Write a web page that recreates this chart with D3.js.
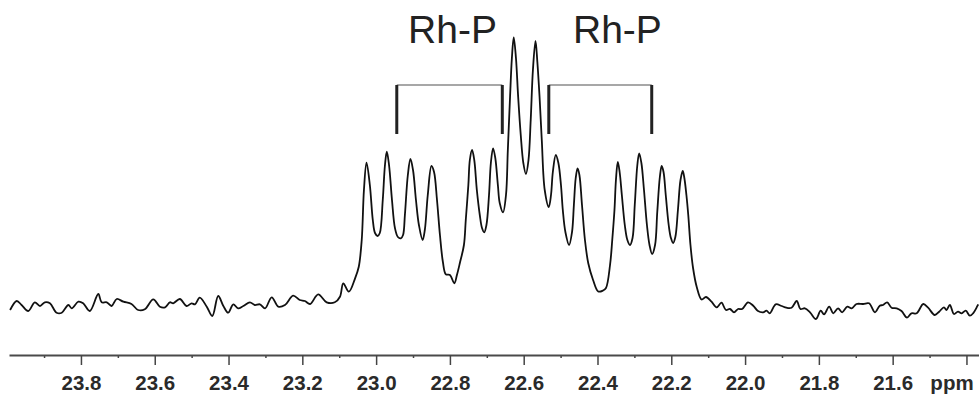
<!DOCTYPE html>
<html>
<head>
<meta charset="utf-8">
<script src="https://cdn.jsdelivr.net/npm/d3@7"></script>
<style>
  html, body { margin: 0; padding: 0; background: #fff; }
  svg { display: block; }
</style>
</head>
<body>
<div id="chart"></div>
<script>
// chemical shift (ppm) of each sampled point on the trace
const shiftPpm = [
  23.992, 23.974, 23.961, 23.943, 23.925, 23.911, 23.898, 23.884, 23.866, 23.852,
  23.834, 23.825, 23.807, 23.794, 23.776, 23.753, 23.744, 23.730, 23.717, 23.703,
  23.685, 23.663, 23.645, 23.627, 23.604, 23.586, 23.572, 23.559, 23.550, 23.532,
  23.514, 23.500, 23.491, 23.478, 23.459, 23.444, 23.428, 23.414, 23.401, 23.387,
  23.374, 23.360, 23.342, 23.329, 23.315, 23.301, 23.283, 23.265, 23.247, 23.225,
  23.207, 23.193, 23.179, 23.157, 23.134, 23.112, 23.098,
  23.089, 23.074, 23.057, 23.047, 23.039, 23.033, 23.026, 23.017, 23.009, 23.003,
  22.996, 22.990, 22.982, 22.976, 22.971, 22.965, 22.957, 22.949, 22.941, 22.933,
  22.927, 22.922, 22.914, 22.907, 22.900, 22.892, 22.884, 22.874, 22.868, 22.860,
  22.850, 22.843, 22.835, 22.827, 22.819, 22.811, 22.800, 22.788, 22.781, 22.773,
  22.762, 22.757, 22.750, 22.746, 22.740, 22.734, 22.727, 22.719, 22.713, 22.707,
  22.701, 22.694, 22.689, 22.683, 22.677, 22.670, 22.665, 22.656, 22.648, 22.643,
  22.637, 22.632, 22.627, 22.621, 22.615, 22.608, 22.601, 22.594, 22.587, 22.581,
  22.575, 22.568, 22.563, 22.557, 22.551, 22.543, 22.532, 22.526, 22.521, 22.513,
  22.506, 22.499, 22.494, 22.487, 22.477, 22.469, 22.464, 22.459, 22.454, 22.449,
  22.442, 22.434, 22.425, 22.412, 22.398, 22.385, 22.377, 22.366, 22.360, 22.354,
  22.350, 22.345, 22.340, 22.334, 22.326, 22.319, 22.312, 22.305, 22.299, 22.292,
  22.287, 22.281, 22.274, 22.266, 22.259, 22.252, 22.244, 22.238, 22.231, 22.226,
  22.221, 22.215, 22.207, 22.201, 22.195, 22.189, 22.182, 22.175, 22.169, 22.165,
  22.159, 22.154, 22.148, 22.141, 22.131, 22.118, 22.106, 22.091, 22.077, 22.064,
  22.052, 22.041, 22.030, 22.019, 22.008, 21.992, 21.978, 21.965, 21.951, 21.942,
  21.933, 21.917, 21.901, 21.888, 21.874, 21.860, 21.850, 21.838, 21.824, 21.808,
  21.795, 21.786, 21.772, 21.761, 21.748, 21.737, 21.723, 21.711, 21.698, 21.680,
  21.664, 21.648, 21.635, 21.626, 21.615, 21.603, 21.589, 21.576, 21.561, 21.549,
  21.535, 21.517, 21.504, 21.486, 21.474, 21.461, 21.454, 21.445, 21.434, 21.423,
  21.413, 21.402, 21.391, 21.382, 21.368
];

// signal intensity (arbitrary units) at each shift above
const intensity = [
  10, 19, 15, 9, 17.7, 14, 17.7, 16.7, 7.3, 7.3,
  15, 11.7, 18.3, 16.7, 9, 26, 17.7, 17.7, 14, 21,
  18.3, 16, 10, 10.7, 20.7, 13.3, 12.7, 17.7, 16.7, 21,
  14, 16.7, 15.7, 22.3, 13.3, 4, 24, 14, 7.3, 15.7,
  11.7, 14, 17.7, 15, 15.7, 11.7, 22.7, 13.3, 15, 24.3,
  20, 19, 16, 25.7, 17.7, 17.7, 23.3,
  36.7, 28.3, 41.7, 53.3, 80, 130, 157.3, 135, 100, 87,
  84, 87, 120, 155, 168.3, 155, 120, 92, 83, 81.7,
  85, 105, 145, 161, 150, 120, 95, 80, 90, 125,
  154, 148, 120, 85, 58, 45.7, 45, 36.7, 45, 57,
  75, 100, 135, 160, 170, 160, 130, 105, 92, 87.7,
  95, 125, 157, 171.7, 162, 135, 117, 107.7, 125, 170,
  223, 262, 282.7, 262, 223, 185, 157, 146, 160, 200,
  250, 279, 258, 223, 180, 130, 113, 125, 148, 165,
  157, 135, 110, 88, 75, 88, 115, 142, 151.7, 145,
  115, 80, 56.7, 40, 28.5, 29.5, 32, 55, 80, 110,
  140, 158, 148, 125, 95, 80, 75, 82, 115, 155,
  166.7, 157, 130, 95, 75, 66, 75, 108, 143, 154,
  148, 125, 95, 82, 77, 83, 110, 140, 149, 143,
  125, 105, 75, 52, 33, 20.5, 23, 18.3, 12.7, 17.3,
  10, 11, 7.7, 11, 11, 17.7, 14.3, 9, 7.7, 9.3,
  6.7, 15.7, 14, 12.3, 12.3, 19, 11, 11.7, 7.7, 1,
  9.3, 5.7, 13.3, 6.7, 11.7, 7.7, 13.3, 11.7, 16, 16,
  16.7, 7.7, 14.3, 15, 17.7, 12.3, 11.7, 9, 2.3, 6.7,
  6.7, 16, 12.3, 5, 8.3, 12.7, 10, 15, 6, 8.3,
  6.7, 9.3, 4.3, 6.7, 15.7
];

// axis ticks
const majorTicks = [23.8, 23.6, 23.4, 23.2, 23.0, 22.8, 22.6, 22.4, 22.2, 22.0, 21.8, 21.6, 21.4];
const minorTicks = [23.9, 23.7, 23.5, 23.3, 23.1, 22.9, 22.7, 22.5, 22.3, 22.1, 21.9, 21.7, 21.5];
const tickLabels = ['23.8', '23.6', '23.4', '23.2', '23.0', '22.8', '22.6', '22.4', '22.2', '22.0', '21.8', '21.6', ''];
const unitLabel = 'ppm';

// Rh-P coupling brackets (ppm of the two marked lines) and their labels
const bracketPpm = [[22.944, 22.658], [22.532, 22.253]];
const bracketLabels = ['Rh-P', 'Rh-P'];
const labelPpm = [22.793, 22.346];

const width = 979;
const height = 394;
const axisY = 355;

const svg = d3.select('#chart')
  .append('svg')
  .attr('width', width)
  .attr('height', height);

// ppm runs right-to-left, as usual for NMR
const xScale = d3.scaleLinear()
  .domain([23.995, 21.366])
  .range([9, 979]);

const yScale = d3.scaleLinear()
  .domain([0, 300])
  .range([320, 20]);

const points = shiftPpm.map((p, i) => ({ ppm: p, value: intensity[i] }));

// spectrum trace
const line = d3.line()
  .x(d => xScale(d.ppm))
  .y(d => yScale(d.value))
  .curve(d3.curveCatmullRom.alpha(0.5));

svg.append('path')
  .datum(points)
  .attr('fill', 'none')
  .attr('stroke', '#111')
  .attr('stroke-width', 1.8)
  .attr('stroke-linejoin', 'round')
  .attr('d', line);

// minor ticks
svg.append('g')
  .attr('transform', `translate(0,${axisY})`)
  .call(d3.axisBottom(xScale).tickValues(minorTicks).tickSize(3).tickSizeOuter(0).tickFormat(''))
  .call(g => g.select('.domain').remove())
  .call(g => g.selectAll('line').attr('stroke', '#444').attr('stroke-width', 1.5));

// major ticks + labels
const xAxis = svg.append('g')
  .attr('transform', `translate(0,${axisY})`)
  .call(d3.axisBottom(xScale)
    .tickValues(majorTicks)
    .tickSize(10)
    .tickSizeOuter(0)
    .tickFormat((d, i) => tickLabels[i]));

xAxis.select('.domain')
  .attr('stroke', '#4a4a4a')
  .attr('stroke-width', 2.2);

xAxis.selectAll('.tick line')
  .attr('stroke', '#444')
  .attr('stroke-width', 1.5);

xAxis.selectAll('.tick text')
  .attr('y', 35)
  .attr('dy', 0)
  .attr('fill', '#2a2a2a')
  .style('font-family', 'Arial, "Liberation Sans", sans-serif')
  .style('font-weight', 'bold')
  .style('font-size', '20.5px');

xAxis.append('text')
  .attr('x', 952)
  .attr('y', 35)
  .attr('fill', '#2a2a2a')
  .attr('text-anchor', 'middle')
  .style('font-family', 'Arial, "Liberation Sans", sans-serif')
  .style('font-weight', 'bold')
  .style('font-size', '20.5px')
  .text(unitLabel);

// coupling brackets
const brackets = svg.append('g');
bracketPpm.forEach(pair => {
  const x1 = xScale(pair[0]);
  const x2 = xScale(pair[1]);
  brackets.append('line')
    .attr('x1', x1).attr('x2', x2)
    .attr('y1', 85).attr('y2', 85)
    .attr('stroke', '#8a8a8a')
    .attr('stroke-width', 1.3);
  pair.forEach(p => {
    brackets.append('line')
      .attr('x1', xScale(p)).attr('x2', xScale(p))
      .attr('y1', 85).attr('y2', 134)
      .attr('stroke', '#222')
      .attr('stroke-width', 3);
  });
});

brackets.selectAll('.rhp')
  .data(bracketLabels)
  .enter().append('text')
  .attr('class', 'rhp')
  .attr('x', (d, i) => xScale(labelPpm[i]))
  .attr('y', 43)
  .attr('text-anchor', 'middle')
  .attr('fill', '#222')
  .style('font-family', 'Arial, "Liberation Sans", sans-serif')
  .style('font-size', '39px')
  .text(d => d);
</script>
</body>
</html>
